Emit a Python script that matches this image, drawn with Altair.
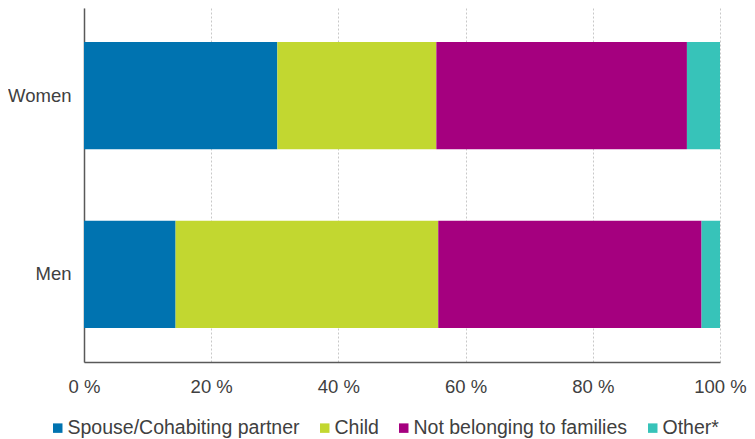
import altair as alt
import pandas as pd

groups = ["Women", "Men"]
categories = ["Spouse/Cohabiting partner", "Child", "Not belonging to families", "Other*"]
women = [30.4, 25.0, 39.4, 5.2]
men = [14.4, 41.3, 41.4, 2.9]
colors = ["#0073B0", "#C2D730", "#A5007F", "#37C3B9"]
x_ticks = [0, 20, 40, 60, 80, 100]

rows = []
for g, vals in zip(groups, [women, men]):
    for i, (c, v) in enumerate(zip(categories, vals)):
        rows.append({"group": g, "category": c, "value": v, "order": i})
df = pd.DataFrame(rows)

FONT = "Liberation Sans"
TXT = "#404040"

chart = alt.Chart(df).mark_bar(stroke=None).encode(
    y=alt.Y("group:N", sort=groups, title=None,
            scale=alt.Scale(paddingInner=0.4, paddingOuter=0.19),
            axis=alt.Axis(ticks=False, domain=True, domainColor="#595959", domainWidth=1.5,
                          labelFontSize=18.5, labelFont=FONT, labelColor=TXT, labelPadding=13)),
    x=alt.X("value:Q", stack="zero", title=None,
            scale=alt.Scale(domain=[0, 100], nice=False),
            axis=alt.Axis(values=x_ticks, labelExpr="datum.value + ' %'", ticks=False,
                          labelFlush=False,
                          domainColor="#595959", domainWidth=1.5,
                          grid=True, gridColor="#c8c8c8", gridDash=[2, 2], gridWidth=1,
                          labelFontSize=18.5, labelFont=FONT, labelColor=TXT, labelPadding=15)),
    color=alt.Color("category:N", sort=categories,
                    scale=alt.Scale(domain=categories, range=colors),
                    legend=alt.Legend(title=None, orient="none", direction="horizontal",
                                      legendX=-36, legendY=410, symbolType="square",
                                      symbolSize=90, symbolStrokeWidth=0,
                                      labelFontSize=19.5, labelFont=FONT, labelColor=TXT,
                                      labelOffset=0, columnPadding=15, labelLimit=400)),
    order=alt.Order("order:Q"),
).properties(
    width=636, height=354,
    autosize=alt.AutoSizeParams(type="none"),
    padding={"left": 76, "top": 0, "right": 27, "bottom": 77},
).configure_view(stroke=None)

chart.save("out.html", embed_options={"renderer": "svg", "actions": False})
